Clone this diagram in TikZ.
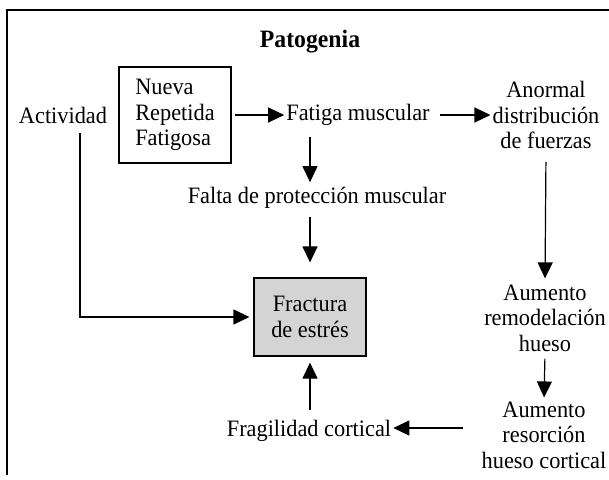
\documentclass[tikz,border=0pt]{standalone}
\usepackage{fontspec}
\setmainfont{Liberation Serif}[FakeStretch=0.95]
\usetikzlibrary{arrows.meta}
\begin{document}
\begin{tikzpicture}[x=1pt,y=-1pt,
  txt/.style={inner sep=2pt, align=center, font=\fontsize{23.5}{25.5}\selectfont},
  arr/.style={line width=1.2pt, -{Triangle[length=16pt,width=15pt]}},
  ln/.style={line width=1.2pt}]
\useasboundingbox (0,0) rectangle (609,479);
% frame
\draw[ln] (7,475) -- (7,10) -- (609,10);
% nodes
\node[txt, font=\fontsize{25}{26}\selectfont\bfseries] (pat) at (310,42) {Patogenia};
\node[txt] (act) at (63,115) {Actividad};
\node[txt, draw, line width=1.2pt, align=left, minimum width=112pt, minimum height=96pt] (nrf) at (175,115) {Nueva\\Repetida\\Fatigosa};
\node[txt] (fat) at (358,115) {Fatiga muscular};
\node[txt] (anr) at (546,115) {Anormal\\distribución\\de fuerzas};
\node[txt] (fal) at (317,198) {Falta de protección muscular};
\node[txt, draw, line width=1.2pt, fill=black!17, minimum width=112pt, minimum height=78pt] (fra) at (310,317) {Fractura\\de estrés};
\node[txt] (arh) at (545,318) {Aumento\\remodelación\\hueso};
\node[txt] (ars) at (544,435) {Aumento\\resorción\\hueso cortical};
\node[txt] (frg) at (309,431) {Fragilidad cortical};
\coordinate (c1) at (463,428);
% connectors
\draw[arr, shorten <=3pt] (nrf.east) -- (fat.west);
\draw[arr, shorten <=8pt] (fat.east) -- (anr.west);
\draw[arr, shorten <=9pt, shorten >=3pt] (fra.north |- fat.south) -- (fra.north |- fal.north);
\draw[arr, shorten <=6pt, shorten >=15pt] (fra.north |- fal.south) -- (fra.north);
\draw[arr, shorten <=8pt, shorten >=4pt] ([xshift=17pt]act.south) |- (fra.west);
\draw[arr, shorten <=11pt, shorten >=4pt] (anr.south) -- (arh.north);
\draw[arr, shorten <=5pt, shorten >=2pt] (arh.south) -- (ars.north);
\draw[arr] (c1) -- (frg.east |- c1);
\draw[arr, shorten <=8pt, shorten >=6pt] (fra.south |- frg.north) -- (fra.south);
\end{tikzpicture}
\end{document}
